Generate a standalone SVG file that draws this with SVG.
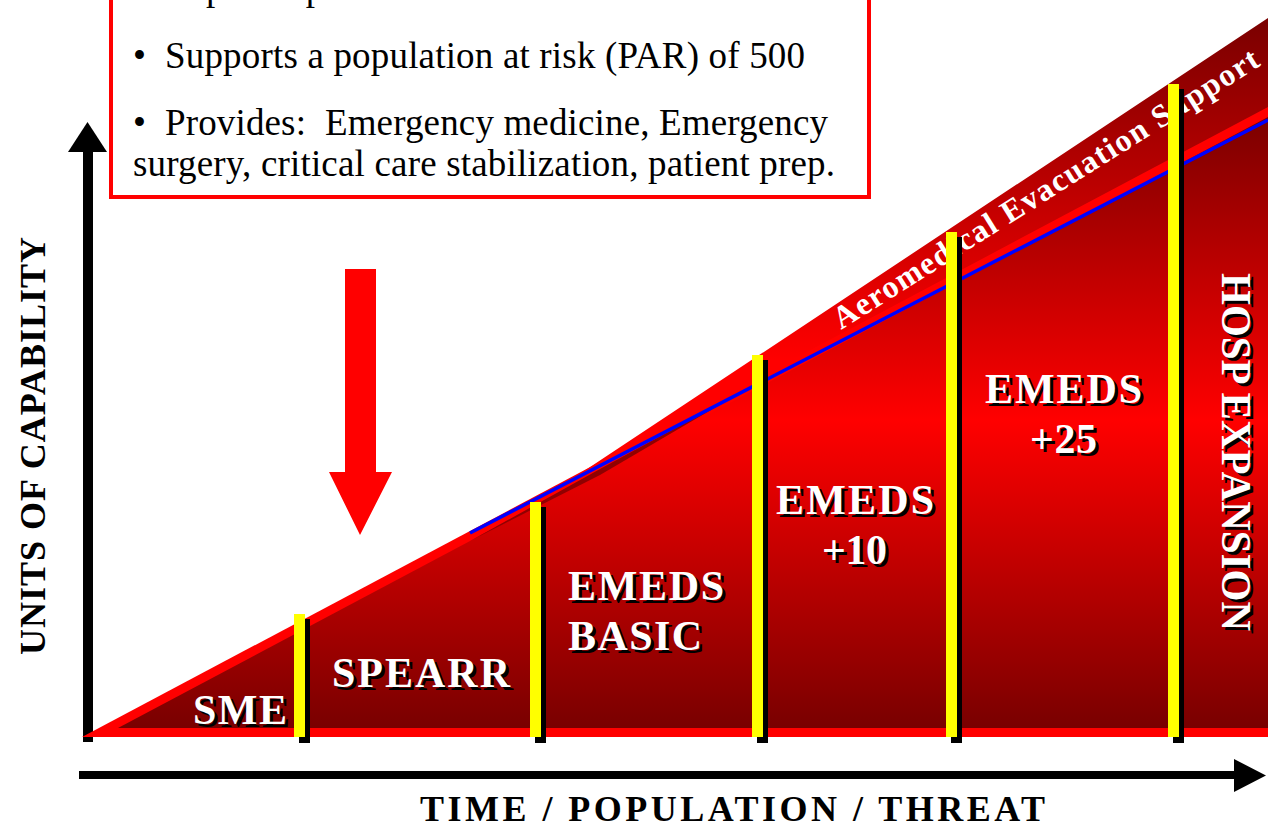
<svg xmlns="http://www.w3.org/2000/svg" width="1268" height="826" viewBox="0 0 1268 826">
<style>
.serif{font-family:"Liberation Serif","Times New Roman",serif}
.box{font-size:37px;fill:#000}
.ax{font-size:36px;font-weight:bold;fill:#000}
.lbl{font-size:42px;font-weight:bold;fill:#fff}
.shd{fill:#000}
.yb{fill:#ffff00}
.bb{fill:#000}
</style>
<defs>
<linearGradient id="gIn" gradientUnits="userSpaceOnUse" x1="0" y1="110" x2="0" y2="730">
<stop offset="0" stop-color="#780000"/>
<stop offset="0.5" stop-color="#ff0000"/>
<stop offset="1" stop-color="#780000"/>
</linearGradient>
<linearGradient id="gBand" gradientUnits="userSpaceOnUse" x1="0" y1="18" x2="0" y2="360">
<stop offset="0" stop-color="#7a0000"/>
<stop offset="1" stop-color="#ff0000"/>
</linearGradient>
</defs>
<rect width="1268" height="826" fill="#fff"/>

<g id="axes">
<rect x="83" y="148" width="10" height="594" fill="#000"/>
<polygon points="68,152 107,152 87.5,122" fill="#000"/>
<rect x="79" y="771" width="1157" height="8" fill="#000"/>
<polygon points="1234,759 1234,792 1266,775.5" fill="#000"/>
<text class="serif ax" transform="translate(45,655) rotate(-90)" textLength="418" lengthAdjust="spacing">UNITS OF CAPABILITY</text>
<text class="serif ax" x="420" y="821" textLength="625" lengthAdjust="spacing">TIME / POPULATION / THREAT</text>
</g>

<g id="info-box">
<rect x="111" y="-10" width="758" height="207" fill="#fff" stroke="#ff0000" stroke-width="4"/>
<text class="serif box" x="165" y="0">Rapid response</text>
<text class="serif box" x="133" y="68">•</text>
<text class="serif box" x="165" y="68" textLength="640" lengthAdjust="spacing">Supports a population at risk (PAR) of 500</text>
<text class="serif box" x="133" y="135">•</text>
<text class="serif box" x="165" y="135" textLength="663" lengthAdjust="spacing">Provides:&#160; Emergency medicine, Emergency</text>
<text class="serif box" x="133" y="176" textLength="702" lengthAdjust="spacing">surgery, critical care stabilization, patient prep.</text>
</g>

<g id="aeromedical-band">
<polygon points="470,534 575,477 1268,18 1268,116" fill="url(#gBand)"/>
<text class="serif" transform="translate(841,330) rotate(-32.2)" font-size="32" font-weight="bold" fill="#fff" textLength="497" lengthAdjust="spacing">Aeromedical Evacuation Support</text>
</g>

<g id="capability-triangle">
<polygon points="82,737 1268,107 1268,737" fill="#ff0000"/>
<polygon points="118,728 1268,117 1268,728" fill="url(#gIn)"/>
<polygon points="470,541 600,469 740,393 600,475" fill="#900000"/>
</g>

<g id="connectors">
<line x1="470" y1="533" x2="1268" y2="120" stroke="#0000ff" stroke-width="3.5"/>
<polygon points="345,269 376,269 376,472 392,472 360,535 329,472 345,472" fill="#ff0000"/>
</g>

<g id="dividers">
<rect class="bb" x="299" y="619" width="11" height="124"/>
<rect class="yb" x="294" y="614" width="11" height="123"/>
<rect class="bb" x="535" y="507" width="11" height="236"/>
<rect class="yb" x="530" y="502" width="11" height="235"/>
<rect class="bb" x="757" y="360" width="11" height="383"/>
<rect class="yb" x="752" y="355" width="11" height="382"/>
<rect class="bb" x="951" y="237" width="11" height="506"/>
<rect class="yb" x="946" y="232" width="11" height="505"/>
<rect class="bb" x="1173" y="89" width="11" height="654"/>
<rect class="yb" x="1168" y="84" width="11" height="653"/>
</g>

<g id="node-sme">
<text class="serif lbl shd" x="196" y="727" textLength="94" lengthAdjust="spacing">SME</text>
<text class="serif lbl" x="193" y="724" textLength="94" lengthAdjust="spacing">SME</text>
</g>
<g id="node-spearr">
<text class="serif lbl shd" x="335" y="690" textLength="178" lengthAdjust="spacing">SPEARR</text>
<text class="serif lbl" x="332" y="687" textLength="178" lengthAdjust="spacing">SPEARR</text>
</g>
<g id="node-emeds-basic">
<text class="serif lbl shd" x="571" y="603" textLength="156" lengthAdjust="spacing">EMEDS</text>
<text class="serif lbl" x="568" y="600" textLength="156" lengthAdjust="spacing">EMEDS</text>
<text class="serif lbl shd" x="571" y="653" textLength="134" lengthAdjust="spacing">BASIC</text>
<text class="serif lbl" x="568" y="650" textLength="134" lengthAdjust="spacing">BASIC</text>
</g>
<g id="node-emeds-10">
<text class="serif lbl shd" x="779" y="517" textLength="158" lengthAdjust="spacing">EMEDS</text>
<text class="serif lbl" x="776" y="514" textLength="158" lengthAdjust="spacing">EMEDS</text>
<text class="serif lbl shd" x="825" y="567" textLength="65" lengthAdjust="spacing">+10</text>
<text class="serif lbl" x="822" y="564" textLength="65" lengthAdjust="spacing">+10</text>
</g>
<g id="node-emeds-25">
<text class="serif lbl shd" x="988" y="406" textLength="157" lengthAdjust="spacing">EMEDS</text>
<text class="serif lbl" x="985" y="403" textLength="157" lengthAdjust="spacing">EMEDS</text>
<text class="serif lbl shd" x="1033" y="456" textLength="67" lengthAdjust="spacing">+25</text>
<text class="serif lbl" x="1030" y="453" textLength="67" lengthAdjust="spacing">+25</text>
</g>
<g id="node-hosp-expansion">
<text class="serif lbl shd" transform="translate(1225,276) rotate(90)" textLength="358" lengthAdjust="spacingAndGlyphs">HOSP EXPANSION</text>
<text class="serif lbl" transform="translate(1222,273) rotate(90)" textLength="358" lengthAdjust="spacingAndGlyphs">HOSP EXPANSION</text>
</g>
</svg>
